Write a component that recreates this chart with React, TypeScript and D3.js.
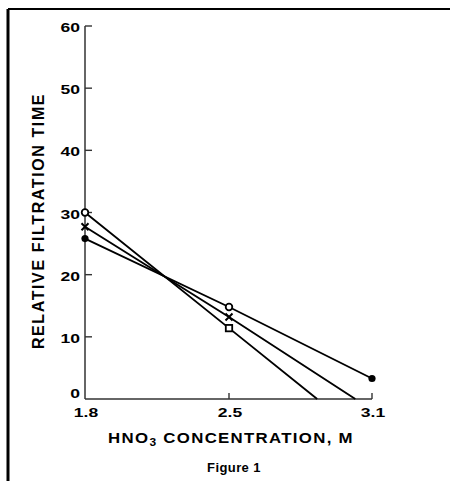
import React from "react";
import * as d3 from "d3";

// Acid concentration (M) at each measured point, per curve
const steepX = [1.8, 2.5, 2.87];
const steepY = [30, 11.4, 0];
const steepMarks = ["ring", "square", ""];

const middleX = [1.8, 2.5, 3.03];
const middleY = [27.7, 13.2, 0];
const middleMarks = ["cross", "cross", ""];

const shallowX = [1.8, 2.5, 3.1];
const shallowY = [25.8, 14.8, 3.3];
const shallowMarks = ["dot", "ring", "dot"];

const xTicks = [1.8, 2.5, 3.1];
const yTicks = [0, 10, 20, 30, 40, 50, 60];

const FONT = "'Liberation Sans', Arial, Helvetica, sans-serif";

function Marker({ kind, cx, cy }: { kind: string; cx: number; cy: number }) {
  if (kind === "ring")
    return <circle cx={cx} cy={cy} r={3.3} fill="#fff" stroke="#000" strokeWidth={1.8} />;
  if (kind === "dot") return <circle cx={cx} cy={cy} r={3.6} fill="#000" />;
  if (kind === "square")
    return <rect x={cx - 3.2} y={cy - 3.2} width={6.4} height={6.4} fill="#fff" stroke="#000" strokeWidth={1.8} />;
  if (kind === "cross")
    return (
      <path
        d={`M${cx - 3.5},${cy - 3.5}L${cx + 3.5},${cy + 3.5}M${cx + 3.5},${cy - 3.5}L${cx - 3.5},${cy + 3.5}`}
        stroke="#000"
        strokeWidth={2}
      />
    );
  return null;
}

// Wide, low bold lettering for the numeric labels
function Num({ x, y, anchor, children }: { x: number; y: number; anchor: string; children: React.ReactNode }) {
  return (
    <text
      transform={`translate(${x},${y}) scale(1.3,1)`}
      textAnchor={anchor}
      fontSize={13.5}
      fontWeight="bold"
    >
      {children}
    </text>
  );
}

export default function App() {
  const width = 450;
  const height = 481;
  const x = d3.scaleLinear().domain([1.8, 2.5, 3.1]).range([85, 229, 372]);
  const y = d3.scaleLinear().domain([0, 60]).range([399, 26]);

  const series = [
    { xs: steepX, ys: steepY, marks: steepMarks },
    { xs: middleX, ys: middleY, marks: middleMarks },
    { xs: shallowX, ys: shallowY, marks: shallowMarks },
  ];

  const line = d3
    .line<[number, number]>()
    .x((d) => x(d[0]))
    .y((d) => y(d[1]));

  return (
    <svg
      width={width}
      height={height}
      style={{ position: "absolute", left: 0, top: 0, background: "#fff" }}
      fontFamily={FONT}
    >
      <rect width={width} height={height} fill="#fff" />
      {/* frame */}
      <line x1={8} y1={9} x2={450} y2={9} stroke="#000" strokeWidth={2} />
      <line x1={8} y1={9} x2={8} y2={481} stroke="#000" strokeWidth={3} />

      {/* axes */}
      <line x1={x(1.8)} y1={y(60)} x2={x(1.8)} y2={y(0)} stroke="#333" strokeWidth={1.5} />
      <line x1={x(1.8)} y1={y(0)} x2={x(3.1)} y2={y(0)} stroke="#333" strokeWidth={1.5} />
      {yTicks.map((t) => (
        <g key={`y${t}`}>
          {t > 0 && (
            <line x1={x(1.8)} y1={y(t)} x2={x(1.8) + 7} y2={y(t)} stroke="#333" strokeWidth={1.4} />
          )}
          <Num x={80} y={y(t) + (t === 0 ? -1 : 6)} anchor="end">
            {t}
          </Num>
        </g>
      ))}
      {xTicks.map((t) => (
        <g key={`x${t}`}>
          {t > 1.8 && (
            <line x1={x(t)} y1={y(0)} x2={x(t)} y2={y(0) - 6} stroke="#333" strokeWidth={1.4} />
          )}
          <Num x={x(t) + 1} y={417} anchor="middle">
            {t.toFixed(1)}
          </Num>
        </g>
      ))}

      {/* curves */}
      {series.map((s, i) => (
        <g key={i}>
          <path
            d={line(s.xs.map((v, j) => [v, s.ys[j]] as [number, number])) || ""}
            fill="none"
            stroke="#000"
            strokeWidth={1.9}
          />
          {s.xs.map((v, j) => (
            <Marker key={j} kind={s.marks[j]} cx={x(v)} cy={y(s.ys[j])} />
          ))}
        </g>
      ))}

      {/* titles */}
      <text
        transform={`translate(44,221) rotate(-90)`}
        textAnchor="middle"
        fontSize={16}
        fontWeight="bold"
        letterSpacing={1.6}
      >
        RELATIVE FILTRATION TIME
      </text>
      <text
        transform="translate(231,443) scale(1.2,1)"
        textAnchor="middle"
        fontSize={14}
        fontWeight="bold"
        letterSpacing={1.1}
      >
        HNO
        <tspan fontSize={10} dy={3}>3</tspan>
        <tspan dy={-3}> CONCENTRATION, M</tspan>
      </text>
      <text x={234} y={472} textAnchor="middle" fontSize={13} fontWeight="bold" letterSpacing={0.4}>
        Figure 1
      </text>
    </svg>
  );
}
